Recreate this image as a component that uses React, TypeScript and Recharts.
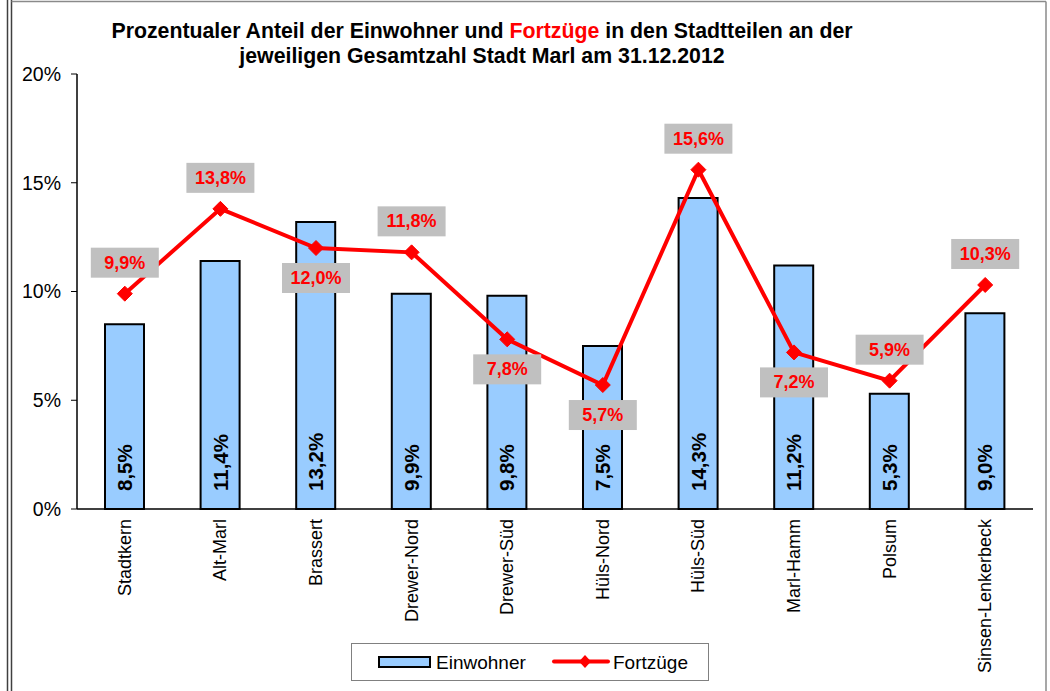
import React from 'react';
import {
  ComposedChart, Bar, Line, XAxis, YAxis, LabelList,
} from 'recharts';

const categories = ['Stadtkern', 'Alt-Marl', 'Brassert', 'Drewer-Nord', 'Drewer-Süd', 'Hüls-Nord', 'Hüls-Süd', 'Marl-Hamm', 'Polsum', 'Sinsen-Lenkerbeck'];
const einwohner = [8.5, 11.4, 13.2, 9.9, 9.8, 7.5, 14.3, 11.2, 5.3, 9.0];
const fortzuege = [9.9, 13.8, 12.0, 11.8, 7.8, 5.7, 15.6, 7.2, 5.9, 10.3];
const fortzuegeLabelSide = ['above', 'above', 'below', 'above', 'below', 'below', 'above', 'below', 'above', 'above'];
const yTicks = [0, 5, 10, 15, 20];
const boundaryTicks = [0, 1, 2, 3, 4, 5, 6, 7, 8, 9, 10];

const data = categories.map((name, i) => ({
  name,
  einwohner: einwohner[i],
  fortzuege: fortzuege[i],
}));

const FONT = '"Liberation Sans", Arial, sans-serif';
const fmt = (v: number) => v.toFixed(1).replace('.', ',') + '%';

const CategoryTick = (props: any) => {
  const { x, y, payload } = props;
  const ty = y + 2;
  return (
    <text
      x={x}
      y={ty}
      transform={`rotate(-90, ${x}, ${ty})`}
      textAnchor="end"
      dominantBaseline="central"
      fontFamily={FONT}
      fontSize={18}
      fill="#000"
    >
      {payload.value}
    </text>
  );
};

const EmptyTick = () => <g />;

const BarValueLabel = (props: any) => {
  const { x, y, width, height, value } = props;
  const cx = x + width / 2;
  const cy = y + height - 18;
  return (
    <text
      x={cx}
      y={cy}
      transform={`rotate(-90, ${cx}, ${cy})`}
      textAnchor="start"
      dominantBaseline="central"
      fontFamily={FONT}
      fontWeight="bold"
      fontSize={20.5}
      fill="#000"
    >
      {fmt(value)}
    </text>
  );
};

const LineValueLabel = (props: any) => {
  const { x, y, value, index } = props;
  const side = fortzuegeLabelSide[index];
  const w = 68;
  const h = 30;
  const cy = side === 'above' ? y - 31 : y + 30;
  return (
    <g>
      <rect x={x - w / 2} y={cy - h / 2} width={w} height={h} fill="#c0c0c0" />
      <text
        x={x}
        y={cy}
        textAnchor="middle"
        dominantBaseline="central"
        fontFamily={FONT}
        fontWeight="bold"
        fontSize={18}
        fill="#ff0000"
      >
        {fmt(value)}
      </text>
    </g>
  );
};

const Diamond = (props: any) => {
  const { cx, cy } = props;
  if (cx == null || cy == null) return null;
  const r = 7.5;
  return (
    <polygon
      points={`${cx},${cy - r} ${cx + r},${cy} ${cx},${cy + r} ${cx - r},${cy}`}
      fill="#ff0000"
      stroke="#ff0000"
    />
  );
};

const Overlay = () => (
  <svg
    width={1050}
    height={691}
    style={{ position: 'absolute', left: 0, top: 0, pointerEvents: 'none' }}
  >
    {/* outer frame */}
    <line x1={7.5} y1={0} x2={7.5} y2={691} stroke="#404040" strokeWidth={1.5} />
    <line x1={11.5} y1={0} x2={11.5} y2={691} stroke="#404040" strokeWidth={1.5} />
    <line x1={11.5} y1={1.5} x2={1046} y2={1.5} stroke="#8a8a8a" strokeWidth={1.5} />
    <line x1={1046} y1={1.5} x2={1046} y2={691} stroke="#8a8a8a" strokeWidth={1.5} />
    {/* title */}
    <text x={482} y={38} textAnchor="middle" fontFamily={FONT} fontWeight="bold" fontSize={21.3} fill="#000">
      Prozentualer Anteil der Einwohner und <tspan fill="#ff0000">Fortzüge</tspan> in den Stadtteilen an der
    </text>
    <text x={482} y={63} textAnchor="middle" fontFamily={FONT} fontWeight="bold" fontSize={21.3} fill="#000">
      jeweiligen Gesamtzahl Stadt Marl am 31.12.2012
    </text>
    {/* legend */}
    <rect x={351.5} y={643.5} width={357} height={37} fill="#fff" stroke="#808080" strokeWidth={1} />
    <rect x={379} y={657} width={51} height={10} fill="#99ccff" stroke="#000" strokeWidth={2} />
    <text x={436} y={662} dominantBaseline="central" fontFamily={FONT} fontSize={19} fill="#000">Einwohner</text>
    <line x1={554} y1={661.5} x2={608} y2={661.5} stroke="#ff0000" strokeWidth={4} strokeLinecap="round" />
    <polygon points="585,655 591,661.5 585,668 579,661.5" fill="#ff0000" />
    <text x={613} y={662} dominantBaseline="central" fontFamily={FONT} fontSize={19} fill="#000">Fortzüge</text>
  </svg>
);

export default function App() {
  return (
    <div style={{ position: 'absolute', left: 0, top: 0, width: 1050, height: 691, background: '#fff' }}>
      <ComposedChart
        width={1050}
        height={691}
        data={data}
        margin={{ top: 74, right: 17, bottom: 0, left: 0 }}
        barCategoryGap="29%"
      >
        <XAxis
          xAxisId="grid"
          type="number"
          dataKey="none"
          domain={[0, 10]}
          ticks={boundaryTicks}
          height={0}
          tick={EmptyTick}
          tickSize={6}
          tickLine={{ stroke: '#000', strokeWidth: 1 }}
          axisLine={false}
          allowDataOverflow
        />
        <XAxis
          dataKey="name"
          height={182}
          tick={<CategoryTick />}
          tickLine={false}
          axisLine={{ stroke: '#000', strokeWidth: 1.5 }}
          interval={0}
        />
        <XAxis
          xAxisId="top"
          orientation="top"
          type="number"
          dataKey="none"
          domain={[0, 10]}
          height={0}
          tick={false}
          tickLine={false}
          axisLine={{ stroke: '#808080', strokeWidth: 2 }}
          allowDataOverflow
        />
        <YAxis
          domain={[0, 20]}
          ticks={yTicks}
          width={77}
          tickFormatter={(v: number) => `${v}%`}
          tick={{ fontFamily: FONT, fontSize: 19.5, fill: '#000' }}
          tickSize={6}
          tickMargin={10}
          tickLine={{ stroke: '#000', strokeWidth: 1 }}
          axisLine={{ stroke: '#000', strokeWidth: 1.5 }}
          interval={0}
        />
        <YAxis
          yAxisId="right"
          orientation="right"
          domain={[0, 20]}
          width={0}
          tick={false}
          tickLine={false}
          axisLine={{ stroke: '#808080', strokeWidth: 2 }}
        />
        <Bar
          dataKey="einwohner"
          fill="#99ccff"
          stroke="#000"
          strokeWidth={2}
          barSize={39}
          isAnimationActive={false}
        >
          <LabelList dataKey="einwohner" content={<BarValueLabel />} />
        </Bar>
        <Line
          dataKey="fortzuege"
          stroke="#ff0000"
          strokeWidth={4}
          dot={<Diamond />}
          activeDot={false}
          isAnimationActive={false}
        >
          <LabelList dataKey="fortzuege" content={<LineValueLabel />} />
        </Line>
      </ComposedChart>
      <Overlay />
    </div>
  );
}
